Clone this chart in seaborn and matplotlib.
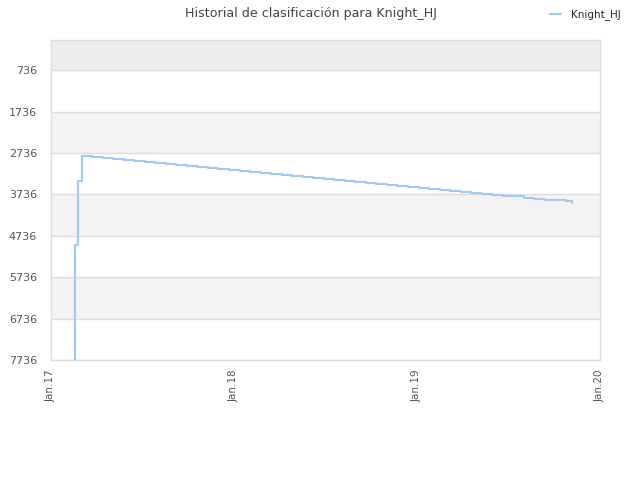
import pandas as pd
import matplotlib
matplotlib.use("Agg")
import matplotlib.pyplot as plt
import seaborn as sns

# rank history (lower is better)
dates = ["2017-02-15", "2017-02-17", "2017-02-23", "2017-03-03",
         "2017-03-24", "2017-04-14", "2017-05-05", "2017-05-26", "2017-06-16",
         "2017-07-07", "2017-07-28", "2017-08-18", "2017-09-08", "2017-09-29",
         "2017-10-20", "2017-11-10", "2017-12-01", "2017-12-22",
         "2018-01-12", "2018-02-02", "2018-02-23", "2018-03-16", "2018-04-06",
         "2018-04-27", "2018-05-18", "2018-06-08", "2018-06-29", "2018-07-20",
         "2018-08-10", "2018-08-31", "2018-09-21", "2018-10-12", "2018-11-02",
         "2018-11-23", "2018-12-14",
         "2019-01-04", "2019-01-25", "2019-02-15", "2019-03-08", "2019-03-29",
         "2019-04-19", "2019-05-10", "2019-05-31", "2019-06-21", "2019-07-12",
         "2019-08-02", "2019-08-23", "2019-09-13", "2019-10-04", "2019-10-25",
         "2019-11-07"]
ranks = [9000, 4950, 3411, 2803,
         2827, 2851, 2875, 2899, 2922,
         2946, 2971, 2995, 3019, 3043,
         3066, 3090, 3114, 3139,
         3163, 3187, 3211, 3234, 3258,
         3282, 3307, 3331, 3355, 3379,
         3402, 3426, 3450, 3475, 3499,
         3523, 3547,
         3570, 3594, 3618, 3643, 3667,
         3691, 3715, 3738, 3762, 3786,
         3811, 3835, 3859, 3882, 3906,
         3933]
player = "Knight_HJ"
y_ticks = [736, 1736, 2736, 3736, 4736, 5736, 6736, 7736]
x_ticks = ["2017-01-01", "2018-01-01", "2019-01-01", "2020-01-01"]
x_labels = ["Jan.17", "Jan.18", "Jan.19", "Jan.20"]

df = pd.DataFrame({"fecha": pd.to_datetime(dates), "rank": ranks, "jugador": player})

sns.set_style("white")
plt.rcParams["font.family"] = ["DejaVu Sans"]

fig = plt.figure(figsize=(6.4, 4.8), dpi=100)
ax = fig.add_axes([0.0797, 0.25, 0.8578, 0.6667])

# alternating horizontal bands
ax.axhspan(0, y_ticks[0], color="#eeeeee", zorder=0, lw=0)
for i in range(len(y_ticks) - 1):
    if i % 2 == 1:
        ax.axhspan(y_ticks[i], y_ticks[i + 1], color="#f3f3f3", zorder=0, lw=0)
for t in y_ticks:
    ax.axhline(t, color="#dddddd", lw=1, zorder=1)

sns.lineplot(data=df, x="fecha", y="rank", hue="jugador", ax=ax,
             palette=["#9ecbf5"], drawstyle="steps-post", linewidth=1.5, zorder=3)

ax.set_ylim(7736, 5)
ax.set_xlim(pd.Timestamp("2017-01-01"), pd.Timestamp("2020-01-01"))
ax.set_yticks(y_ticks)
ax.set_yticklabels([str(t) for t in y_ticks], fontsize=8, color="#555555")
ax.set_xticks(pd.to_datetime(x_ticks))
ax.set_xticklabels(x_labels, rotation=90, fontsize=7.5, color="#555555")
ax.tick_params(axis="both", length=3, color="#dddddd", pad=4)
ax.tick_params(axis="y", length=0, pad=10)
ax.set_xlabel("")
ax.set_ylabel("")
for s in ax.spines.values():
    s.set_color("#dddddd")
    s.set_linewidth(1)

fig.suptitle("Historial de clasificación para Knight_HJ", x=0.486, y=0.985,
             fontsize=9.1, color="#444444")
ax.legend(loc="upper right", bbox_to_anchor=(0.985, 1.0), bbox_transform=fig.transFigure,
          frameon=False, fontsize=7.5, handlelength=1.0, handletextpad=1.0)

fig.savefig("out.png", dpi=100)
